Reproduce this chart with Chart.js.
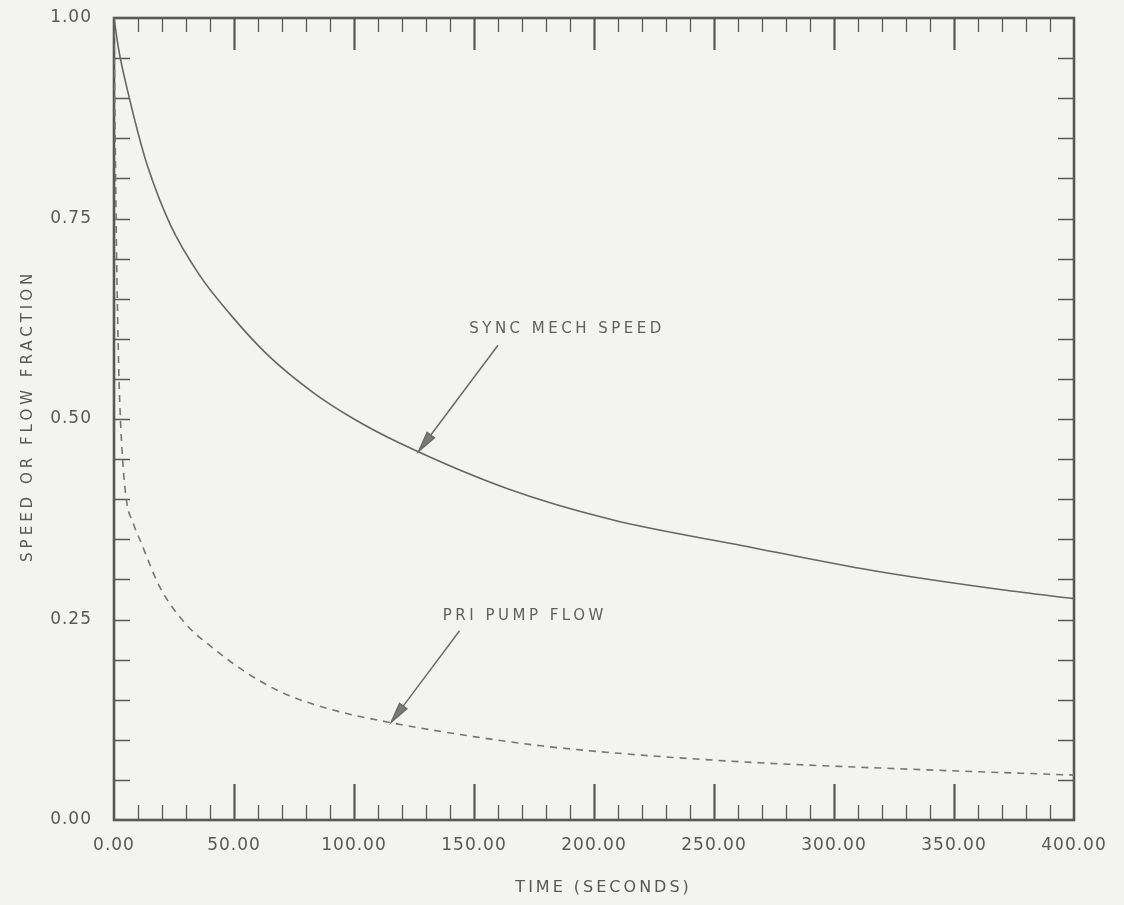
<!DOCTYPE html>
<html>
<head>
<meta charset="utf-8">
<title>Speed or flow fraction vs time</title>
<script src="https://cdn.jsdelivr.net/npm/chart.js@4.4.1/dist/chart.umd.min.js"></script>
<style>
  html, body { margin:0; padding:0; background:#f3f3f1; }
  #wrap { width:1124px; height:905px; }
</style>
</head>
<body>
<div id="wrap"><canvas id="chart" width="1124" height="905"></canvas></div>
<script>
// values (time in seconds, fraction of rated)
const syncTime  = [0, 2, 6, 10, 14, 23.5, 35.5, 48, 64, 83, 100, 119, 164, 208, 262, 316, 370, 400];
const syncSpeed = [1.0, 0.960, 0.905, 0.857, 0.815, 0.742, 0.680, 0.632, 0.580, 0.533, 0.500, 0.470, 0.413, 0.374, 0.342, 0.311, 0.287, 0.276];

const pumpTime = [0, 0.5, 1, 2, 3, 5, 8, 11, 19, 30, 41, 54, 70, 89, 116, 150, 178, 205, 233, 268, 339, 400];
const pumpFlow = [1.0, 0.85, 0.72, 0.56, 0.48, 0.403, 0.370, 0.348, 0.291, 0.244, 0.215, 0.186, 0.159, 0.139, 0.121, 0.104, 0.0925, 0.0845, 0.078, 0.0715, 0.0625, 0.056];

// labelled ticks
const xLabels = [0, 50, 100, 150, 200, 250, 300, 350, 400];
const yLabels = [0, 0.25, 0.5, 0.75, 1.0];

// callouts, in data units
const notes = [
  { text:'SYNC MECH SPEED', at:[148, 0.612], tail:[160, 0.592], tip:[127, 0.460] },
  { text:'PRI PUMP FLOW',   at:[137, 0.2545], tail:[144, 0.236], tip:[115.5, 0.122] }
];

const ink = '#585858';
const font = 'DejaVu Sans';

function isLabelY(v){ return yLabels.some(l => Math.abs(l - v) < 1e-6); }

// inside tick marks + box frame, drawn from the chart's own scales
const paperTicks = {
  id:'paperTicks',
  beforeDraw(chart){ chart.ctx.letterSpacing = '1px'; },
  beforeDatasetsDraw(chart){
    const {ctx, chartArea:a, scales:{x, y}} = chart;
    ctx.save();
    ctx.strokeStyle = ink;
    x.ticks.forEach(t => {
      if(t.value <= x.min || t.value >= x.max) return;
      const px = Math.round(x.getPixelForValue(t.value)) + 0.5;
      const big = xLabels.includes(t.value);
      ctx.lineWidth = big ? 2.2 : 1.3;
      ctx.beginPath();
      ctx.moveTo(px, a.bottom); ctx.lineTo(px, a.bottom - (big ? 36 : 15));
      ctx.moveTo(px, a.top);    ctx.lineTo(px, a.top + (big ? 32 : 14));
      ctx.stroke();
    });
    ctx.lineWidth = 1.4;
    y.ticks.forEach(t => {
      if(t.value <= y.min || t.value >= y.max) return;
      const py = Math.round(y.getPixelForValue(t.value)) + 0.5;
      ctx.beginPath();
      ctx.moveTo(a.left, py);  ctx.lineTo(a.left + 16, py);
      ctx.moveTo(a.right, py); ctx.lineTo(a.right - 16, py);
      ctx.stroke();
    });
    ctx.lineWidth = 2.6;
    ctx.strokeRect(a.left, a.top, a.width, a.height);
    ctx.restore();
  },
  afterDraw(chart){
    const {ctx, chartArea:a, scales:{x, y}} = chart;
    ctx.save();
    ctx.fillStyle = ink;
    ctx.textAlign = 'center';
    ctx.textBaseline = 'middle';
    // axis titles
    ctx.font = '16px "' + font + '"';
    ctx.letterSpacing = '3px';
    ctx.fillText('TIME (SECONDS)', a.left + a.width * 0.51, a.bottom + 68);
    ctx.save();
    ctx.translate(a.left - 86, a.top + a.height * 0.496);
    ctx.rotate(-Math.PI / 2);
    ctx.font = '15px "' + font + '"';
    ctx.letterSpacing = '4px';
    ctx.fillText('SPEED OR FLOW FRACTION', 0, 0);
    ctx.restore();

    // callouts with arrows
    ctx.font = '15px "' + font + '"';
    ctx.letterSpacing = '3.5px';
    ctx.textAlign = 'left';
    ctx.fillStyle = '#606060';
    ctx.strokeStyle = '#6a6a6a';
    notes.forEach(n => {
      ctx.fillText(n.text, x.getPixelForValue(n.at[0]), y.getPixelForValue(n.at[1]));
      const x1 = x.getPixelForValue(n.tail[0]), y1 = y.getPixelForValue(n.tail[1]);
      const x2 = x.getPixelForValue(n.tip[0]),  y2 = y.getPixelForValue(n.tip[1]);
      const ang = Math.atan2(y2 - y1, x2 - x1);
      const hl = 20, hw = 4.5;
      const bx = x2 - hl * Math.cos(ang), by = y2 - hl * Math.sin(ang);
      ctx.lineWidth = 1.5;
      ctx.beginPath(); ctx.moveTo(x1, y1); ctx.lineTo(bx, by); ctx.stroke();
      ctx.beginPath();
      ctx.moveTo(x2, y2);
      ctx.lineTo(bx + hw * Math.sin(ang), by - hw * Math.cos(ang));
      ctx.lineTo(bx - hw * Math.sin(ang), by + hw * Math.cos(ang));
      ctx.closePath();
      ctx.fillStyle = '#7a7a7a';
      ctx.fill();
      ctx.stroke();
      ctx.fillStyle = '#606060';
    });
    ctx.restore();
  }
};

new Chart(document.getElementById('chart'), {
  type:'line',
  data:{
    datasets:[
      { label:'SYNC MECH SPEED', data: syncTime.map((t, i) => ({x:t, y:syncSpeed[i]})),
        borderColor:'#666', borderWidth:1.6, cubicInterpolationMode:'monotone', pointRadius:0, fill:false },
      { label:'PRI PUMP FLOW', data: pumpTime.map((t, i) => ({x:t, y:pumpFlow[i]})),
        borderColor:'#767676', borderWidth:1.6, borderDash:[7, 6], cubicInterpolationMode:'monotone', pointRadius:0, fill:false }
    ]
  },
  options:{
    responsive:false,
    animation:false,
    layout:{ padding:{ left:0, top:18, right:50, bottom:7 } },
    plugins:{ legend:{display:false}, tooltip:{enabled:false} },
    scales:{
      x:{
        type:'linear', min:0, max:400,
        afterFit(s){ s.height = 78; s.paddingLeft = 0; s.paddingRight = 0; },
        grid:{ display:false, drawTicks:false },
        border:{ display:false },
        ticks:{ stepSize:10, autoSkip:false, maxRotation:0, padding:15, color:ink,
          font:{ family:font, size:17 },
          callback: v => xLabels.includes(v) ? v.toFixed(2) : '' }
      },
      y:{
        type:'linear', min:0, max:1,
        afterFit(s){ s.width = 114; s.paddingTop = 0; s.paddingBottom = 0; },
        grid:{ display:false, drawTicks:false },
        border:{ display:false },
        ticks:{ stepSize:0.05, autoSkip:false, padding:22, color:ink,
          font:{ family:font, size:17 },
          callback: v => isLabelY(v) ? v.toFixed(2) : '' }
      }
    }
  },
  plugins:[paperTicks]
});
</script>
</body>
</html>
